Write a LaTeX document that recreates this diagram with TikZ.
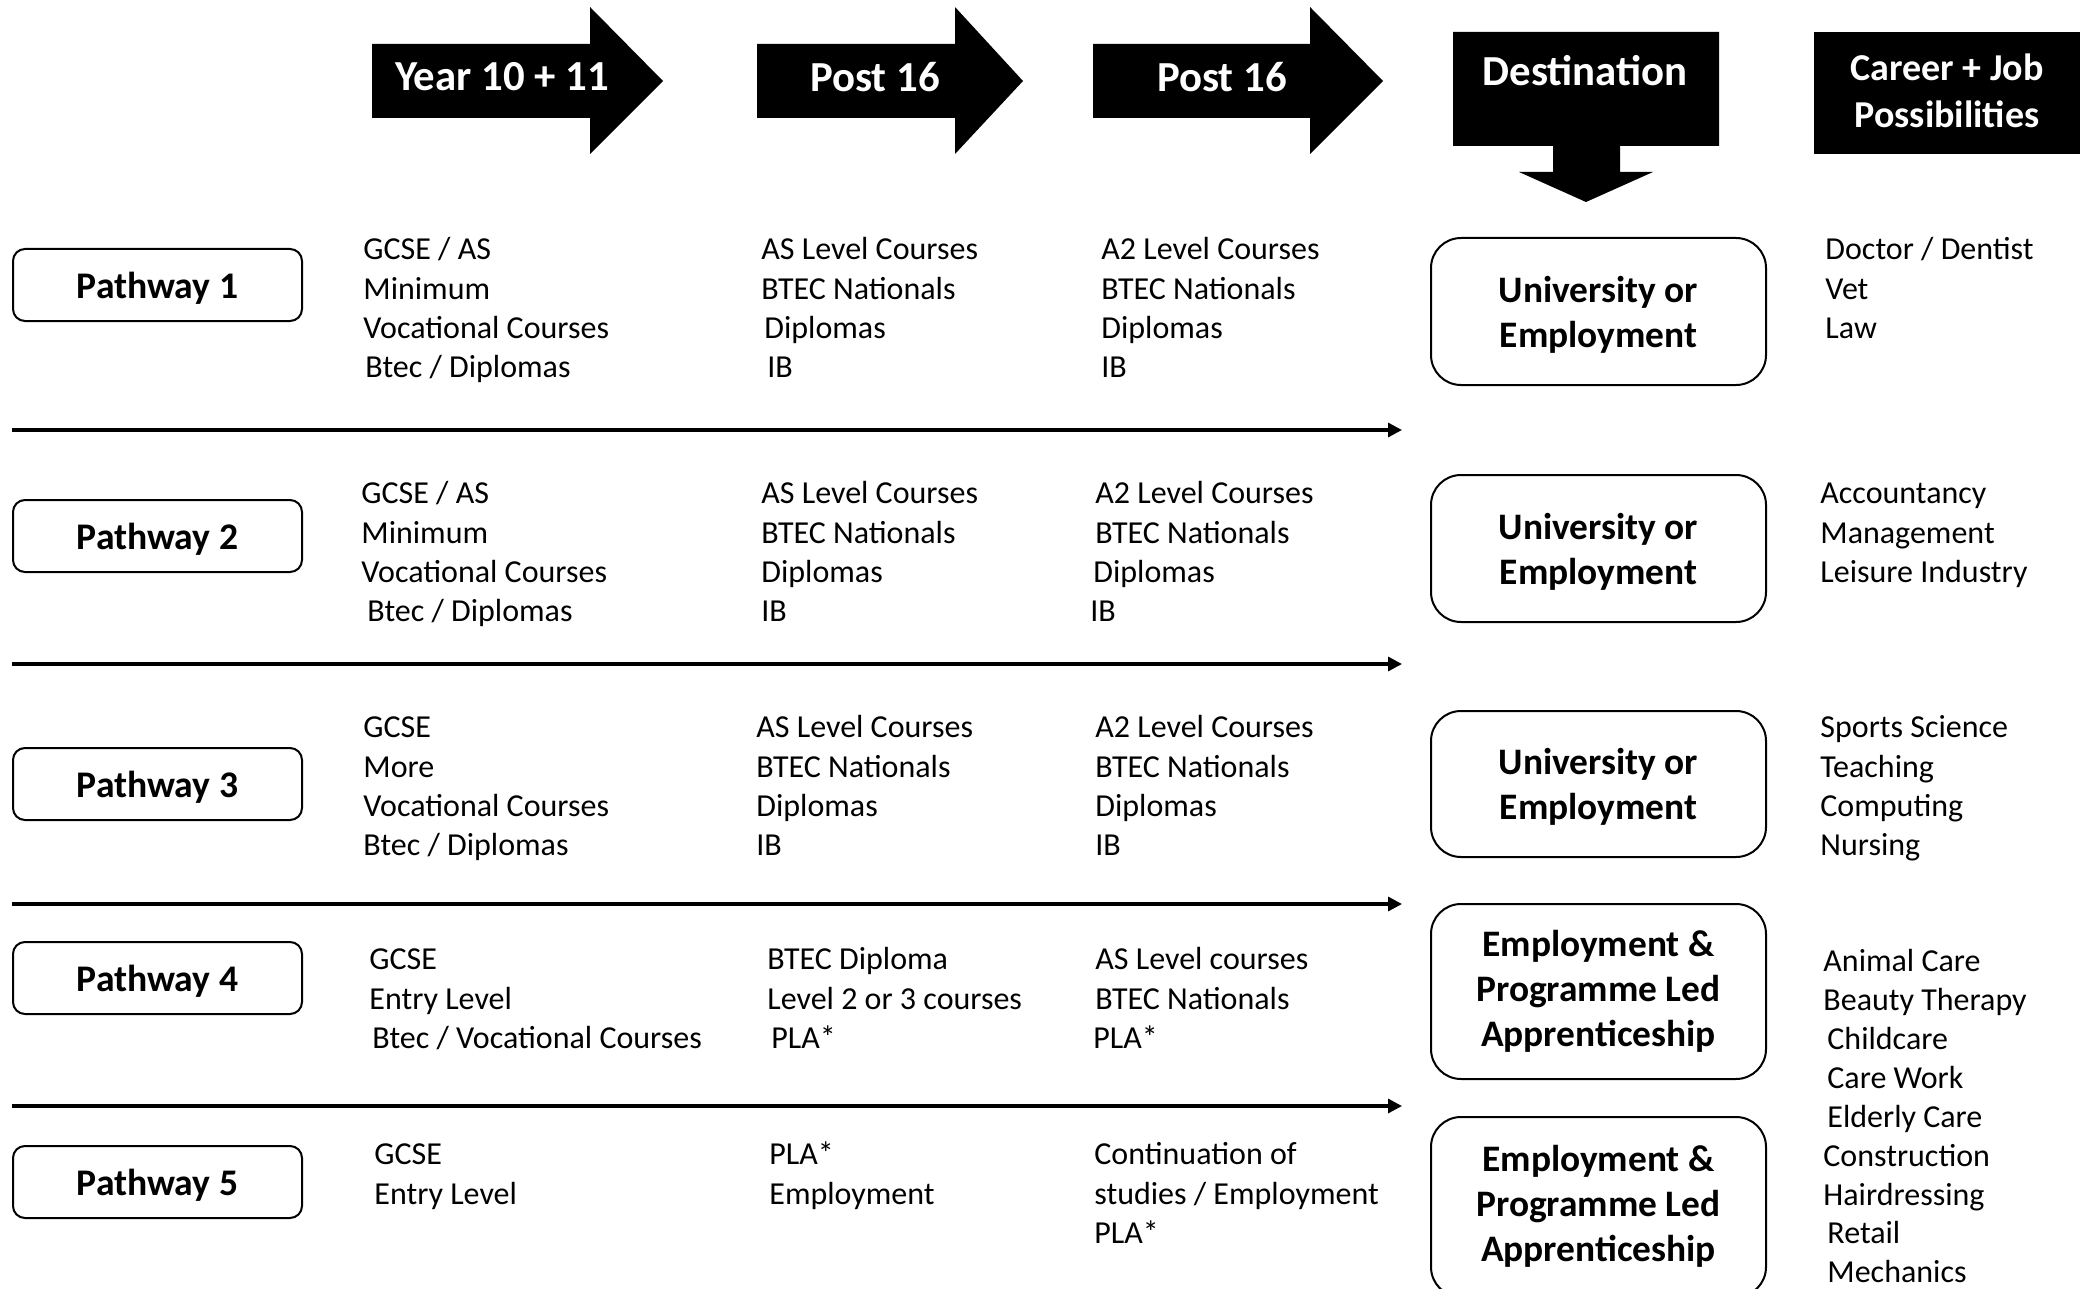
\documentclass[tikz,border=0pt]{standalone}
\usepackage{fontspec}
\setmainfont{Carlito}
\usetikzlibrary{arrows.meta}
\tikzset{
  body/.style={anchor=north west, inner sep=0pt, align=left, font=\fontsize{16}{19.6}\selectfont},
  pbox/.style={draw, rounded corners=6pt, line width=1pt, minimum width=144.5pt, minimum height=36pt, inner sep=0pt, text depth=0pt, font=\bfseries\fontsize{18.8}{22}\selectfont},
  dbox/.style={draw, rounded corners=15pt, line width=1pt, minimum width=167.5pt, inner sep=0pt, text depth=0pt, align=center, font=\bfseries\fontsize{18.7}{22.5}\selectfont},
  sepline/.style={line width=1.6pt, -{Triangle[length=7pt,width=7pt]}},
  headtxt/.style={text=white, inner sep=0pt, align=center, font=\bfseries\fontsize{21.4}{22}\selectfont},
}
\begin{document}
\begin{tikzpicture}[x=0.5pt,y=-0.5pt]
\useasboundingbox (0,0) rectangle (2087,1289);
% header shapes
\fill (372,44) -- (590,44) -- (590,7) -- (663,81) -- (590,154) -- (590,118) -- (372,118) -- cycle;
\fill (757,44) -- (955,44) -- (955,7) -- (1023,81) -- (955,154) -- (955,118) -- (757,118) -- cycle;
\fill (1093,44) -- (1310,44) -- (1310,7) -- (1383,81) -- (1310,154) -- (1310,118) -- (1093,118) -- cycle;
\fill (1453,32) -- (1719,32) -- (1719,146) -- (1620,146) -- (1620,172) -- (1653,172) -- (1586,202) -- (1519,172) -- (1553,172) -- (1553,146) -- (1453,146) -- cycle;
\node[headtxt] (h1) at (502,77) {Year 10 + 11};
\node[headtxt] (h2) at (875,77) {Post 16};
\node[headtxt] (h3) at (1222,77) {Post 16};
\node[headtxt] (h4) at (1585,71) {Destination};
\node[fill=black, minimum width=133pt, minimum height=61pt, inner sep=0pt] (h5) at (1947,93) {};
\node[headtxt, font=\bfseries\fontsize{19}{23.2}\selectfont] (h5t) at (1947,91) {Career + Job\\Possibilities};
% pathway boxes
\node[pbox] (p1) at (157.5,285) {Pathway 1};
\node[pbox] (p2) at (157.5,536) {Pathway 2};
\node[pbox] (p3) at (157.5,784) {Pathway 3};
\node[pbox] (p4) at (157.5,978) {Pathway 4};
\node[pbox] (p5) at (157.5,1182) {Pathway 5};
% separator lines
\coordinate (s1a) at (12,430);  \coordinate (s1b) at (1402,430);
\coordinate (s2a) at (12,664);  \coordinate (s2b) at (1402,664);
\coordinate (s3a) at (12,904);  \coordinate (s3b) at (1402,904);
\coordinate (s4a) at (12,1106); \coordinate (s4b) at (1402,1106);
\draw[sepline] (s1a) -- (s1b);
\draw[sepline] (s2a) -- (s2b);
\draw[sepline] (s3a) -- (s3b);
\draw[sepline] (s4a) -- (s4b);
% pathway 1
\node[body] (c11) at (363,232) {\strut GCSE / AS\\Minimum\\Vocational Courses\\\hspace{1pt}Btec / Diplomas};
\node[body] (c12) at (761,232) {\strut AS Level Courses\\BTEC Nationals\\\hspace{1.5pt}Diplomas\\\hspace{3pt}IB};
\node[body] (c13) at (1101,232) {\strut A2 Level Courses\\BTEC Nationals\\Diplomas\\IB};
% pathway 2
\node[body] (c21) at (361,476) {\strut GCSE / AS\\Minimum\\Vocational Courses\\\hspace{3pt}Btec / Diplomas};
\node[body] (c22) at (761,476) {\strut AS Level Courses\\BTEC Nationals\\Diplomas\\IB};
\node[body] (c23) at (1090,476) {\strut\hspace{2.5pt}A2 Level Courses\\\hspace{2.5pt}BTEC Nationals\\\hspace{1.5pt}Diplomas\\IB};
% pathway 3
\node[body] (c31) at (363,710) {\strut GCSE\\More\\Vocational Courses\\Btec / Diplomas};
\node[body] (c32) at (756,710) {\strut AS Level Courses\\BTEC Nationals\\Diplomas\\IB};
\node[body] (c33) at (1095,710) {\strut A2 Level Courses\\BTEC Nationals\\Diplomas\\IB};
% pathway 4
\node[body] (c41) at (369,942) {\strut GCSE\\Entry Level\\\hspace{1.5pt}Btec / Vocational Courses};
\node[body] (c42) at (767,942) {\strut BTEC Diploma\\Level 2 or 3 courses\\\hspace{2pt}PLA*};
\node[body] (c43) at (1093,942) {\strut\hspace{1pt}AS Level courses\\\hspace{1pt}BTEC Nationals\\PLA*};
% pathway 5
\node[body] (c51) at (374,1137) {\strut GCSE\\Entry Level};
\node[body] (c52) at (769,1137) {\strut PLA*\\Employment};
\node[body] (c53) at (1094,1137) {\strut Continuation of\\studies / Employment\\PLA*};
% destinations
\node[dbox, minimum height=73.5pt] (d1) at (1598.5,311.5) {University or\\Employment};
\node[dbox, minimum height=73.5pt] (d2) at (1598.5,548.5) {University or\\Employment};
\node[dbox, minimum height=73pt] (d3) at (1598.5,784) {University or\\Employment};
\node[dbox, minimum height=87.5pt, text depth=3pt] (d4) at (1598.5,991.5) {Employment \&\\Programme Led\\Apprenticeship};
\node[dbox, minimum height=90pt, text depth=4pt] (d5) at (1598.5,1207) {Employment \&\\Programme Led\\Apprenticeship};
% careers
\node[body] (k1) at (1825,232) {\strut Doctor / Dentist\\Vet\\Law};
\node[body] (k2) at (1820,476) {\strut Accountancy\\Management\\Leisure Industry};
\node[body] (k3) at (1820,710) {\strut Sports Science\\Teaching\\Computing\\Nursing};
\node[body, font=\fontsize{16}{19.45}\selectfont] (k4) at (1823,944) {\strut Animal Care\\Beauty Therapy\\\hspace{2pt}Childcare\\\hspace{2pt}Care Work\\\hspace{2pt}Elderly Care\\Construction\\Hairdressing\\\hspace{2pt}Retail\\\hspace{2pt}Mechanics};
\end{tikzpicture}
\end{document}
